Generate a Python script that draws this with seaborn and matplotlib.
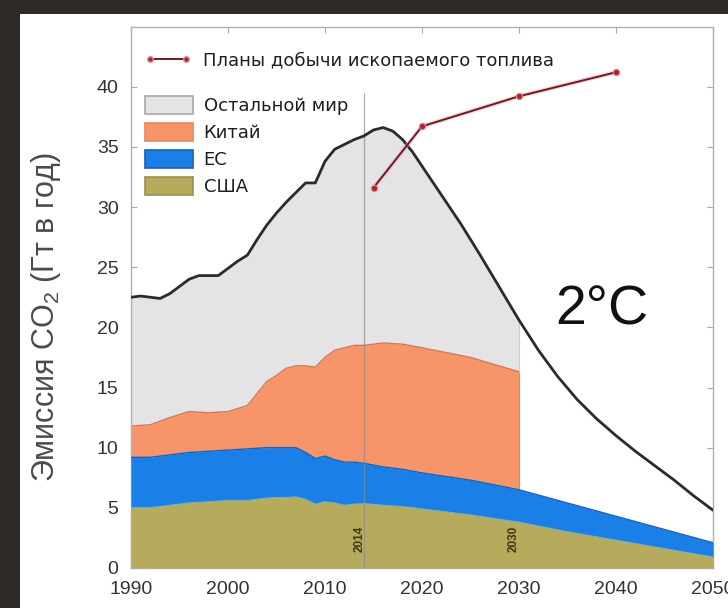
import numpy as np
import pandas as pd
import matplotlib
matplotlib.use("Agg")
import matplotlib.pyplot as plt
import seaborn as sns
from matplotlib.patches import Patch, Rectangle
from matplotlib.lines import Line2D

# ---------------- data (Gt CO2 per year) ----------------
years_a = [1990, 1992, 1994, 1996, 1998, 2000, 2002, 2003, 2004, 2005, 2006, 2007,
           2008, 2009, 2010, 2011, 2012, 2013, 2014, 2016, 2018, 2020, 2025, 2030]
usa_a = [5.0, 5.0, 5.2, 5.4, 5.5, 5.6, 5.6, 5.7, 5.8, 5.85, 5.85, 5.9,
         5.7, 5.3, 5.5, 5.4, 5.2, 5.3, 5.35, 5.2, 5.1, 4.9, 4.4, 3.8]
eu_a = [4.2, 4.2, 4.2, 4.2, 4.2, 4.2, 4.3, 4.25, 4.2, 4.15, 4.15, 4.1,
        3.9, 3.8, 3.8, 3.6, 3.6, 3.5, 3.35, 3.2, 3.1, 3.0, 2.9, 2.7]
china_a = [2.6, 2.7, 3.1, 3.4, 3.2, 3.2, 3.6, 4.55, 5.5, 6.0, 6.6, 6.8,
           7.2, 7.6, 8.2, 9.1, 9.5, 9.7, 9.8, 10.3, 10.4, 10.4, 10.2, 9.8]

years_b = [2030, 2035, 2040, 2045, 2050]
usa_b = [3.8, 3.0, 2.3, 1.6, 0.9]
eu_b = [2.7, 2.4, 2.0, 1.6, 1.2]

world_years = [1990, 1991, 1992, 1993, 1994, 1995, 1996, 1997, 1998, 1999, 2000,
               2001, 2002, 2003, 2004, 2005, 2006, 2007, 2008, 2009, 2010, 2011,
               2012, 2013, 2014, 2015, 2016, 2017, 2018, 2019, 2020, 2021, 2022,
               2024, 2026, 2028, 2030, 2032, 2034, 2036, 2038, 2040, 2042, 2044,
               2046, 2048, 2050]
world_total = [22.5, 22.6, 22.5, 22.4, 22.8, 23.4, 24.0, 24.3, 24.3, 24.3, 24.9,
               25.5, 26.0, 27.3, 28.5, 29.5, 30.4, 31.2, 32.0, 32.0, 33.8, 34.8,
               35.2, 35.6, 35.9, 36.4, 36.6, 36.3, 35.6, 34.6, 33.4, 32.2, 31.0,
               28.6, 26.0, 23.3, 20.6, 18.1, 15.9, 14.0, 12.4, 11.0, 9.7, 8.5,
               7.3, 6.0, 4.8]

plan_years = [2015, 2020, 2030, 2040]
plan_values = [31.6, 36.7, 39.2, 41.2]

labels = ["Планы добычи ископаемого топлива", "Остальной мир", "Китай", "ЕС", "США"]
x_ticks = [1990, 2000, 2010, 2020, 2030, 2040, 2050]
y_ticks = [0, 5, 10, 15, 20, 25, 30, 35, 40]

# ---------------- style ----------------
sns.set_theme(style="ticks")
plt.rcParams["font.family"] = ["Liberation Sans", "DejaVu Sans"]
plt.rcParams["mathtext.fontset"] = "custom"
plt.rcParams["mathtext.rm"] = "Liberation Sans"
plt.rcParams["mathtext.it"] = "Liberation Sans"

c_rest = "#e4e4e7"
c_china = "#f8946a"
c_eu = "#1a7fe6"
c_usa = "#b6aa5c"
c_total = "#2b2b2b"
c_plan = "#6e1a24"

fig = plt.figure(figsize=(7.28, 6.08), dpi=100, facecolor="#2d2a28")
fig.patches.append(Rectangle((20 / 728, 0), 1 - 20 / 728, (608 - 14) / 608,
                             transform=fig.transFigure, facecolor="white",
                             edgecolor="none", zorder=-10))
ax = fig.add_axes([131 / 728, 1 - 568 / 608, (713 - 131) / 728, (568 - 26.5) / 608])
ax.set_zorder(5)
ax.set_facecolor("white")

# stacked areas
ya = np.array(years_a, dtype=float)
usa_top = np.array(usa_a)
eu_top = usa_top + np.array(eu_a)
china_top = eu_top + np.array(china_a)

yb = np.array(years_b, dtype=float)
usa_top_b = np.array(usa_b)
eu_top_b = usa_top_b + np.array(eu_b)

wy = np.array(world_years, dtype=float)
wt = np.array(world_total)
mask = wy <= 2030
wy_h = wy[mask]
china_on_w = np.interp(wy_h, ya, china_top)

ax.fill_between(wy_h, china_on_w, wt[mask], color=c_rest, lw=0, zorder=1)
ax.fill_between(ya, eu_top, china_top, color=c_china, lw=0, zorder=2)
ax.plot(ya, china_top, color="#c97a58", lw=1.0, zorder=2.5)
ax.plot([2030, 2030], [eu_top[-1], china_top[-1]], color="#d88a66", lw=0.8, zorder=2.5)
ax.plot([2030, 2030], [china_top[-1], wt[mask][-1]], color="#cfcfd2", lw=0.8, zorder=2.5)

xe = np.concatenate([ya, yb[1:]])
ue = np.concatenate([usa_top, usa_top_b[1:]])
ee = np.concatenate([eu_top, eu_top_b[1:]])
ax.fill_between(xe, ue, ee, color=c_eu, lw=0, zorder=3)
ax.plot(xe, ee, color="#2060b0", lw=1.0, zorder=3.5)
ax.fill_between(xe, 0, ue, color=c_usa, lw=0, zorder=3)
ax.plot(xe, ue, color="#7fb0a8", lw=1.0, zorder=3.5)

# total line
df_total = pd.DataFrame({"year": wy, "total": wt})
sns.lineplot(data=df_total, x="year", y="total", color=c_total, lw=2.0,
             ax=ax, zorder=5)

# reference line at 2014
ax.plot([2014, 2014], [0, 39.5], color="#8c8c8c", lw=0.9, alpha=0.7, zorder=4)
ax.text(2013.6, 2.4, "2014", rotation=90, ha="center", va="center",
        fontsize=8.5, fontweight="bold", color="#3e3914", zorder=6)
ax.text(2029.4, 2.4, "2030", rotation=90, ha="center", va="center",
        fontsize=8.5, fontweight="bold", color="#3e3914", zorder=6)

# fossil-fuel plans
df_plan = pd.DataFrame({"year": plan_years, "value": plan_values})
ax.plot(plan_years, plan_values, color="#e9a6ae", lw=3.2, alpha=0.45, zorder=6)
sns.lineplot(data=df_plan, x="year", y="value", color=c_plan, lw=1.4,
             marker="o", markersize=4.5, markerfacecolor="#b0202e",
             markeredgecolor="#e08890", markeredgewidth=0.8, ax=ax, zorder=7)

# 2°C label
ax.text(2038.5, 20.2, "2°C", fontsize=40, ha="center", va="baseline",
        color="#111111", zorder=8)

# axes
ax.set_xlim(1990, 2050)
ax.set_ylim(0, 45)
ax.set_xticks(x_ticks)
ax.set_yticks(y_ticks)
ax.set_xticklabels([str(t) for t in x_ticks])
ax.set_yticklabels([str(t) for t in y_ticks])
ax.tick_params(direction="in", length=4, width=0.8, color="#a8a8a8",
               labelsize=14, labelcolor="#333333", pad=9,
               top=True, right=True)
for s in ax.spines.values():
    s.set_color("#b0b0b0")
    s.set_linewidth(1.0)
ax.set_xlabel("")
ax.set_ylabel("Эмиссия CO$_2$ (Гт в год)", fontsize=22, color="#4a4a4a")
ax.yaxis.set_label_coords(-0.117, 0.4635)

# legends
line_handle = Line2D([0], [0], color=c_plan, lw=1.4, marker="o", markersize=4,
                     markerfacecolor="#b0202e", markeredgecolor="#e08890")
leg1 = ax.legend([line_handle], [labels[0]], loc="upper left",
                 bbox_to_anchor=(0.024, 0.955), frameon=False, borderpad=0,
                 borderaxespad=0, handlelength=2.6, handletextpad=0.6,
                 numpoints=2, prop={"family": "DejaVu Sans", "size": 13})
ax.add_artist(leg1)
patches = [Patch(facecolor=c_rest, edgecolor="#a8a8a8", lw=1.2),
           Patch(facecolor=c_china, edgecolor="#e08a60", lw=1.2),
           Patch(facecolor=c_eu, edgecolor="#1a5fb0", lw=1.2),
           Patch(facecolor=c_usa, edgecolor="#9a9050", lw=1.2)]
leg2 = ax.legend(patches, labels[1:], loc="upper left",
                 bbox_to_anchor=(0.024, 0.872), frameon=False, borderpad=0,
                 borderaxespad=0, handlelength=2.65, handleheight=1.2,
                 handletextpad=0.6, labelspacing=0.42,
                 prop={"family": "DejaVu Sans", "size": 13})
for t in list(leg1.get_texts()) + list(leg2.get_texts()):
    t.set_color("#1e1e1e")

fig.savefig("out.png", dpi=100, facecolor=fig.get_facecolor())
